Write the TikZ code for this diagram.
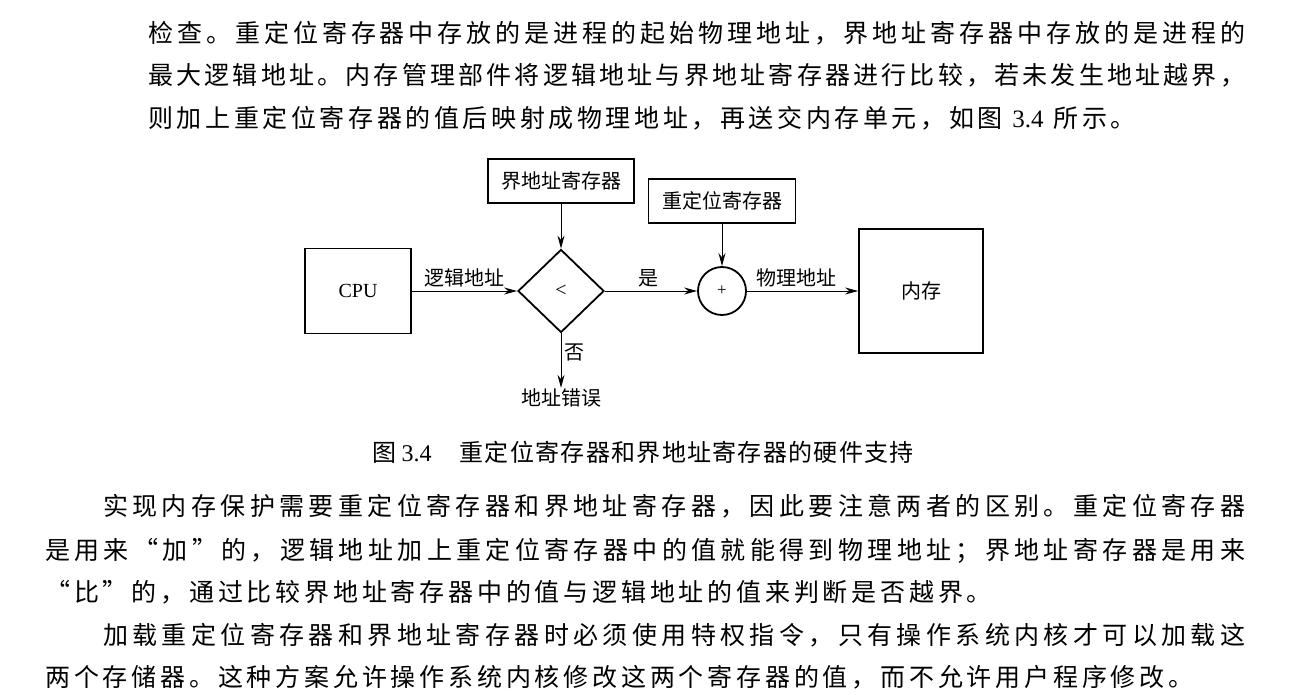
\documentclass[tikz,border=0pt]{standalone}
\usepackage{fontspec}
\setmainfont{Noto Sans CJK SC}
\newfontfamily\latin{Liberation Serif}
\usetikzlibrary{shapes.geometric,arrows.meta}
\ExplSyntaxOn
\NewDocumentCommand\spreadline{m m}
  {\hbox to #1 {\tl_map_inline:nn {#2} {{##1}\hskip 0pt plus 1fil}\unskip}}
\NewDocumentCommand\gapline{m m}
  {\hbox {\tl_map_inline:nn {#2} {{##1}\hskip #1}\unskip}}
\ExplSyntaxOff
\newcommand\bodytext{\fontsize{25}{30}\selectfont}
\newcommand\captext{\fontsize{24}{28}\selectfont}
\newcommand\figtext{\fontsize{20}{24}\selectfont}
\newcommand\openq{\makebox[25pt][r]{“}}
\newcommand\closeq{\makebox[25pt][l]{”}}
\begin{document}
\begin{tikzpicture}[x=1pt,y=-1pt,>={Stealth[length=13pt,width=7pt]}]
\useasboundingbox (0,0) rectangle (1298,695);

\begin{scope}[every node/.style={anchor=base west,inner sep=0pt,font=\bodytext}]
    \node (up1) at (148,42.5) {\spreadline{1097pt}{检查。重定位寄存器中存放的是进程的起始物理地址，界地址寄存器中存放的是进程的}};
    \node (up2) at (148,84.5) {\spreadline{1097pt}{最大逻辑地址。内存管理部件将逻辑地址与界地址寄存器进行比较，若未发生地址越界，}};
    \node (up3) at (148,127.5) {\gapline{3.6pt}{则加上重定位寄存器的值后映射成物理地址，再送交内存单元，如图{\latin\ 3.4\ }所示。}};
    \node (low1) at (103,515.5) {\spreadline{1142pt}{实现内存保护需要重定位寄存器和界地址寄存器，因此要注意两者的区别。重定位寄存器}};
    \node (low2) at (45,559.5) {\spreadline{1200pt}{是用来\openq 加\closeq 的，逻辑地址加上重定位寄存器中的值就能得到物理地址；界地址寄存器是用来}};
    \node (low3) at (45,601.5) {\gapline{3.8pt}{\openq 比\closeq 的，通过比较界地址寄存器中的值与逻辑地址的值来判断是否越界。}};
    \node (low4) at (103,644.5) {\spreadline{1142pt}{加载重定位寄存器和界地址寄存器时必须使用特权指令，只有操作系统内核才可以加载这}};
    \node (low5) at (45,686.5) {\gapline{3.8pt}{两个存储器。这种方案允许操作系统内核修改这两个寄存器的值，而不允许用户程序修改。}};
    \node[anchor=base,font=\captext] (cap) at (643,461) {图 {\latin 3.4}\hspace{28pt}\gapline{1.3pt}{重定位寄存器和界地址寄存器的硬件支持}};
\end{scope}

\begin{scope}[every node/.style={draw,line width=1.8pt,inner sep=0pt,font=\figtext}]
    \node[minimum width=106pt,minimum height=85pt] (cpu) at (358,291) {\latin CPU};
    \node[minimum width=146pt,minimum height=44pt] (bound) at (561,181) {界地址寄存器};
    \node[minimum width=147pt,minimum height=44pt] (reloc) at (722,201) {重定位寄存器};
    \node[diamond,minimum width=86pt,minimum height=83pt] (cmp) at (561,291) {\latin <};
    \node[circle,minimum size=48pt] (add) at (722,291) {\fontsize{17}{18}\selectfont\latin +};
    \node[minimum size=124pt] (mem) at (921,291) {内存};
    \node[draw=none] (err) at (561,398) {地址错误};
\end{scope}

\begin{scope}[line width=1pt,every node/.style={font=\figtext}]
    \path [->] (cpu) edge node[above] {逻辑地址} (cmp);
    \path [->] (bound) edge node {} (cmp);
    \path [->] (cmp) edge node[above,pos=0.47] {是} (add);
    \path [->] (reloc) edge node {} (add);
    \path [->] (add) edge node[above,pos=0.45] {物理地址} (mem);
    \path [->] (cmp) edge node[right,pos=0.35] {否} (err);
\end{scope}
\end{tikzpicture}
\end{document}
